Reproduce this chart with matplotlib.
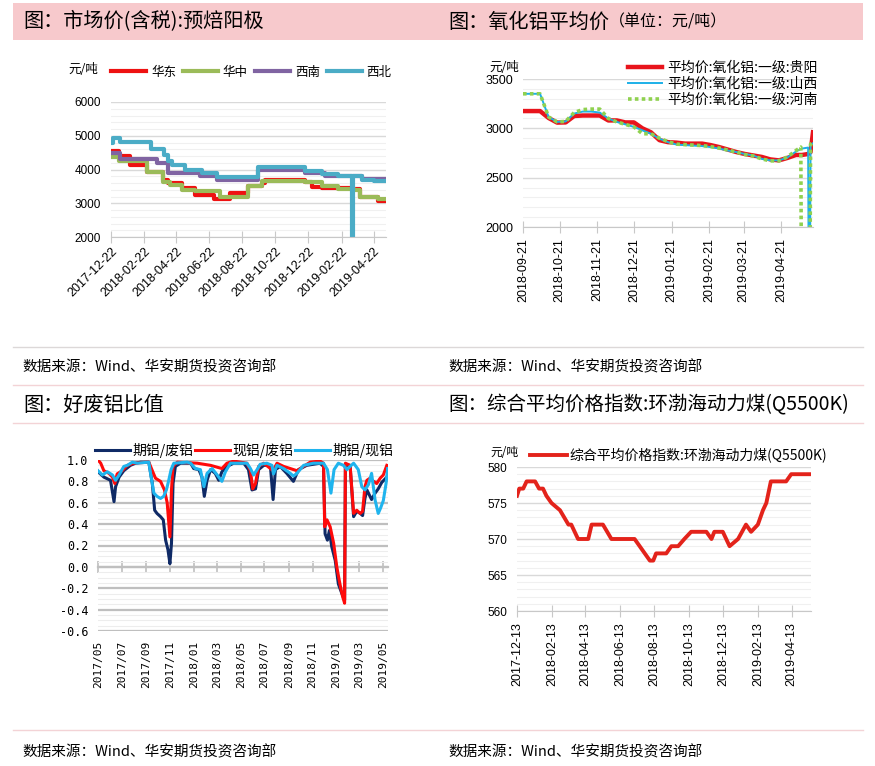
import numpy as np
import pandas as pd
import matplotlib
matplotlib.use("Agg")
import matplotlib.pyplot as plt
import matplotlib.dates as mdates
from matplotlib.patches import Rectangle
from matplotlib.lines import Line2D
from matplotlib.ticker import MultipleLocator, FormatStrFormatter

plt.rcParams['font.family'] = ['Liberation Sans', 'Noto Sans CJK SC', 'DejaVu Sans']
plt.rcParams['axes.unicode_minus'] = False

CJK = ['Noto Sans CJK SC', 'DejaVu Sans']
MONO = ['DejaVu Sans Mono', 'Noto Sans CJK SC']

# ---------------- 图1 预焙阳极市场价 (调价日期, 价格) ----------------
hd_dates = ['2017-12-22', '2018-01-05', '2018-01-26', '2018-02-26', '2018-03-29', '2018-04-07',
            '2018-05-02', '2018-05-27', '2018-06-30', '2018-07-30', '2018-09-02', '2018-09-27',
            '2018-10-03', '2018-12-16', '2018-12-29', '2019-01-16', '2019-03-13', '2019-03-28',
            '2019-05-01', '2019-05-15']
hd_vals = [4550, 4390, 4140, 3940, 3700, 3600, 3450, 3250, 3130, 3300, 3500, 3600,
           3680, 3640, 3480, 3450, 3420, 3200, 3080, 3080]

hz_dates = ['2017-12-22', '2018-01-05', '2018-02-26', '2018-03-29', '2018-04-10', '2018-05-02',
            '2018-05-27', '2018-07-12', '2018-09-02', '2018-09-27', '2018-12-16', '2019-01-16',
            '2019-02-16', '2019-03-16', '2019-03-28', '2019-05-01', '2019-05-15']
hz_vals = [4360, 4240, 3940, 3640, 3545, 3400, 3350, 3200, 3500, 3670, 3620, 3500,
           3420, 3380, 3200, 3130, 3130]

xn_dates = ['2017-12-22', '2018-01-08', '2018-03-17', '2018-04-07', '2018-06-05', '2018-07-06',
            '2018-09-21', '2018-12-16', '2019-01-22', '2019-03-31', '2019-05-15']
xn_vals = [4500, 4310, 4200, 3900, 3800, 3700, 4000, 3900, 3800, 3710, 3710]

xb_dates = ['2017-12-22', '2017-12-25', '2018-01-08', '2018-03-06', '2018-03-31', '2018-04-07',
            '2018-04-13', '2018-05-08', '2018-06-08', '2018-07-06', '2018-09-21', '2018-12-16',
            '2019-01-16', '2019-02-16', '2019-03-13', '2019-03-15', '2019-03-31', '2019-04-22',
            '2019-05-15']
xb_vals = [4800, 4930, 4810, 4620, 4420, 4250, 4120, 4000, 3900, 3780, 4070, 3970,
           3870, 3800, 2000, 3800, 3700, 3650, 3650]

# ---------------- 图2 氧化铝平均价 ----------------
ox_dates = ['2018-09-21', '2018-09-28', '2018-10-05', '2018-10-12', '2018-10-19', '2018-10-26',
            '2018-11-02', '2018-11-09', '2018-11-16', '2018-11-23', '2018-11-30', '2018-12-07',
            '2018-12-14', '2018-12-21', '2018-12-28', '2019-01-04', '2019-01-11', '2019-01-18',
            '2019-01-25', '2019-02-01', '2019-02-08', '2019-02-15', '2019-02-22', '2019-03-01',
            '2019-03-08', '2019-03-15', '2019-03-22', '2019-03-29', '2019-04-05', '2019-04-12',
            '2019-04-19', '2019-04-26', '2019-05-03', '2019-05-07', '2019-05-08', '2019-05-13',
            '2019-05-14', '2019-05-15', '2019-05-17']
gy_vals = [3175, 3175, 3175, 3105, 3058, 3060, 3125, 3130, 3130, 3130, 3080, 3080,
           3060, 3060, 3000, 2960, 2880, 2860, 2855, 2845, 2845, 2845, 2830, 2810,
           2785, 2760, 2740, 2725, 2710, 2685, 2675, 2700, 2730, 2730, 2730, 2740,
           2750, 2760, 2960]
sx_vals = [3350, 3350, 3350, 3115, 3065, 3070, 3150, 3170, 3170, 3160, 3100, 3065,
           3040, 3015, 2980, 2945, 2895, 2860, 2835, 2830, 2825, 2820, 2810, 2795,
           2775, 2760, 2740, 2725, 2690, 2675, 2675, 2705, 2765, 2790, 2795, 2805,
           0, 2830, 2850]
hn_vals = [3350, 3350, 3350, 3115, 3065, 3070, 3160, 3190, 3195, 3195, 3100, 3065,
           3040, 3015, 2945, 2945, 2900, 2865, 2840, 2835, 2830, 2825, 2815, 2800,
           2780, 2760, 2735, 2720, 2690, 2670, 2670, 2710, 2775, 2810, 0, 0,
           0, 2840, 2860]

# ---------------- 图3 好废铝比值 ----------------
qf_dates = ['2017-05-01', '2017-05-16', '2017-06-02', '2017-06-11', '2017-06-15', '2017-06-24',
            '2017-07-06', '2017-07-23', '2017-08-05', '2017-08-18', '2017-09-08', '2017-09-17',
            '2017-09-23', '2017-09-29', '2017-10-08', '2017-10-15', '2017-10-21', '2017-10-27',
            '2017-11-01', '2017-11-05', '2017-11-09', '2017-11-15', '2017-11-28', '2017-12-24',
            '2018-01-01', '2018-01-14', '2018-01-22', '2018-01-28', '2018-02-04', '2018-02-13',
            '2018-02-25', '2018-03-06', '2018-03-14', '2018-03-27', '2018-04-13', '2018-05-09',
            '2018-05-21', '2018-05-30', '2018-06-08', '2018-06-16', '2018-06-29', '2018-07-16',
            '2018-07-23', '2018-07-29', '2018-08-10', '2018-08-27', '2018-09-13', '2018-09-26',
            '2018-10-17', '2018-11-20', '2018-11-29', '2018-12-03', '2018-12-09', '2018-12-14',
            '2018-12-20', '2018-12-29', '2019-01-06', '2019-01-15', '2019-01-22', '2019-01-24',
            '2019-02-05', '2019-02-14', '2019-02-22', '2019-03-03', '2019-03-09', '2019-03-15',
            '2019-03-20', '2019-04-01', '2019-04-10', '2019-04-18', '2019-04-27', '2019-05-10']
qf_vals = [0.89, 0.84, 0.81, 0.61, 0.75, 0.84, 0.90, 0.95, 0.97, 0.98, 0.98, 0.78,
           0.53, 0.50, 0.47, 0.44, 0.25, 0.16, 0.03, 0.22, 0.78, 0.94, 0.97, 0.97,
           0.92, 0.91, 0.84, 0.66, 0.81, 0.91, 0.875, 0.81, 0.89, 0.94, 0.97, 0.97,
           0.91, 0.72, 0.73, 0.91, 0.95, 0.95, 0.63, 0.91, 0.94, 0.875, 0.80, 0.91,
           0.95, 0.97, 0.94, 0.31, 0.25, 0.34, 0.19, 0.06, -0.16, -0.25, -0.31, 0.95,
           0.95, 0.47, 0.52, 0.50, 0.48, 0.64, 0.72, 0.63, 0.69, 0.73, 0.79, 0.84]

xf_dates = ['2017-05-01', '2017-05-08', '2017-05-16', '2017-05-29', '2017-06-07', '2017-06-13',
            '2017-06-19', '2017-07-02', '2017-07-15', '2017-08-01', '2017-09-08', '2017-09-17',
            '2017-09-25', '2017-10-08', '2017-10-18', '2017-10-25', '2017-11-01', '2017-11-05',
            '2017-11-09', '2017-11-20', '2018-01-10', '2018-02-13', '2018-03-14', '2018-03-27',
            '2018-04-13', '2018-05-17', '2018-05-26', '2018-06-01', '2018-06-08', '2018-06-16',
            '2018-06-29', '2018-07-23', '2018-08-02', '2018-08-19', '2018-09-05', '2018-09-22',
            '2018-10-09', '2018-10-26', '2018-11-20', '2018-11-29', '2018-12-02', '2018-12-08',
            '2018-12-16', '2018-12-25', '2019-01-02', '2019-01-10', '2019-01-17', '2019-01-22',
            '2019-01-24', '2019-02-05', '2019-02-14', '2019-02-22', '2019-03-03', '2019-03-09',
            '2019-03-15', '2019-03-20', '2019-03-28', '2019-04-06', '2019-04-14', '2019-04-23',
            '2019-05-01', '2019-05-10']
xf_vals = [1.00, 0.97, 0.90, 0.875, 0.84, 0.78, 0.87, 0.90, 0.95, 0.97, 0.98, 0.90,
           0.83, 0.80, 0.72, 0.60, 0.28, 0.72, 0.94, 0.98, 0.97, 0.95, 0.92, 0.97,
           0.99, 0.97, 0.90, 0.73, 0.78, 0.94, 0.97, 0.90, 0.97, 0.94, 0.92, 0.90,
           0.94, 0.98, 0.99, 0.97, 0.375, 0.44, 0.375, 0.22, 0.00, -0.16, -0.28, -0.34,
           0.97, 0.95, 0.50, 0.53, 0.50, 0.52, 0.75, 0.81, 0.83, 0.80, 0.78, 0.83,
           0.86, 0.95]

qx_dates = ['2017-05-01', '2017-05-12', '2017-05-25', '2017-06-07', '2017-06-15', '2017-06-24',
            '2017-07-06', '2017-07-15', '2017-07-28', '2017-08-09', '2017-09-08', '2017-09-14',
            '2017-09-21', '2017-09-29', '2017-10-08', '2017-10-16', '2017-10-23', '2017-10-29',
            '2017-11-04', '2017-11-11', '2017-12-15', '2017-12-24', '2018-01-05', '2018-01-18',
            '2018-01-27', '2018-02-04', '2018-02-17', '2018-03-02', '2018-03-14', '2018-03-23',
            '2018-04-05', '2018-05-17', '2018-05-26', '2018-06-03', '2018-06-12', '2018-06-20',
            '2018-07-07', '2018-07-20', '2018-07-24', '2018-08-02', '2018-08-19', '2018-09-05',
            '2018-09-13', '2018-09-22', '2018-10-09', '2018-11-03', '2018-11-29', '2018-12-09',
            '2018-12-18', '2018-12-26', '2019-01-06', '2019-01-19', '2019-01-28', '2019-02-05',
            '2019-02-14', '2019-02-26', '2019-03-07', '2019-03-15', '2019-03-24', '2019-04-01',
            '2019-04-10', '2019-04-18', '2019-04-24', '2019-05-01', '2019-05-08', '2019-05-12']
qx_vals = [0.90, 0.86, 0.89, 0.86, 0.81, 0.86, 0.94, 0.95, 0.98, 0.97, 0.98, 0.84,
           0.69, 0.66, 0.64, 0.66, 0.72, 0.81, 0.91, 0.97, 0.98, 0.97, 0.92, 0.91,
           0.75, 0.875, 0.92, 0.86, 0.80, 0.89, 0.97, 0.97, 0.92, 0.86, 0.91, 0.96,
           0.97, 0.95, 0.87, 0.95, 0.92, 0.875, 0.85, 0.875, 0.95, 0.97, 0.97, 0.91,
           0.69, 0.91, 0.97, 0.95, 0.91, 0.94, 0.97, 0.91, 0.75, 0.72, 0.77, 0.875,
           0.625, 0.50, 0.55, 0.62, 0.78, 0.92]

# ---------------- 图4 环渤海动力煤 ----------------
coal_dates = ['2017-12-13', '2017-12-17', '2017-12-24', '2017-12-30', '2018-01-14', '2018-01-21',
              '2018-01-28', '2018-02-03', '2018-02-12', '2018-02-27', '2018-03-14', '2018-03-19',
              '2018-03-31', '2018-04-18', '2018-04-24', '2018-05-14', '2018-05-29', '2018-07-09',
              '2018-08-05', '2018-08-11', '2018-08-16', '2018-09-03', '2018-09-12', '2018-09-24',
              '2018-10-05', '2018-10-17', '2018-11-13', '2018-11-22', '2018-11-27', '2018-12-12',
              '2018-12-24', '2019-01-08', '2019-01-22', '2019-01-31', '2019-02-12', '2019-02-21',
              '2019-02-27', '2019-03-07', '2019-04-03', '2019-04-12', '2019-05-17']
coal_vals = [576, 577, 577, 578, 578, 577, 577, 576, 575, 574, 572, 572,
             570, 570, 572, 572, 570, 570, 567, 567, 568, 568, 569, 569,
             570, 571, 571, 570, 571, 571, 569, 570, 572, 571, 572, 574,
             575, 578, 578, 579, 579]

SOURCE = '数据来源：Wind、华安期货投资咨询部'

W, H = 875, 766
def fx(px):
    return px / W
def fy(py):
    return 1 - py / H

fig = plt.figure(figsize=(W / 100, H / 100), dpi=100)
fig.patch.set_facecolor('white')

# 标题栏 / 分隔线
fig.add_artist(Rectangle((fx(13), fy(40)), fx(863) - fx(13), fy(3) - fy(40),
                         transform=fig.transFigure, facecolor='#f7c9cc', edgecolor='none', zorder=0))
for yy, cc in [(347, '#dcd8d8'), (385, '#f3d3d6'), (423, '#f3d3d6'), (730, '#f3d3d6')]:
    fig.add_artist(Line2D([fx(13), fx(863)], [fy(yy), fy(yy)], transform=fig.transFigure,
                          color=cc, lw=1))

fig.text(fx(23), fy(22), '图：市场价(含税):预焙阳极', fontsize=14.5, family=CJK, va='center')
t2 = fig.text(fx(448), fy(22), '图：氧化铝平均价', fontsize=14.5, family=CJK, va='center')
fig.text(fx(23), fy(405), '图：好废铝比值', fontsize=14.5, family=CJK, va='center')
fig.text(fx(448), fy(405), '图：综合平均价格指数:环渤海动力煤(Q5500K)', fontsize=14, family=CJK, va='center')
for xx, yy in [(22, 367), (448, 367), (22, 752), (448, 752)]:
    fig.text(fx(xx), fy(yy), SOURCE, fontsize=10.5, family=CJK, va='center')


def style(ax, major, minor, gmaj='#d9d9d9', gmin='#f0f0f0', lwmaj=1.0):
    ax.set_axisbelow(True)
    ax.yaxis.set_major_locator(MultipleLocator(major))
    ax.yaxis.set_minor_locator(MultipleLocator(minor))
    ax.grid(axis='y', which='major', color=gmaj, lw=lwmaj)
    ax.grid(axis='y', which='minor', color=gmin, lw=0.8)
    for s in ['left', 'right', 'top']:
        ax.spines[s].set_visible(False)
    ax.spines['bottom'].set_color('#c8c8c8')
    ax.tick_params(axis='y', which='both', length=0, pad=7)
    ax.tick_params(axis='x', direction='inout', length=8, color='#c8c8c8')


# ---------------- 图1 ----------------
ax1 = fig.add_axes([fx(111), fy(237), fx(386) - fx(111), fy(102) - fy(237)])
for nm, d, v, c in [('华东', hd_dates, hd_vals, '#ee1111'),
                    ('华中', hz_dates, hz_vals, '#9bbb59'),
                    ('西南', xn_dates, xn_vals, '#8064a2'),
                    ('西北', xb_dates, xb_vals, '#4bacc6')]:
    ax1.plot(pd.to_datetime(d), v, drawstyle='steps-post', color=c, lw=3, label=nm)
style(ax1, 1000, 200)
ax1.set_ylim(2000, 6000)
ax1.set_xlim(pd.Timestamp('2017-12-22'), pd.Timestamp('2019-05-15'))
ax1.xaxis.set_major_locator(mdates.MonthLocator(bymonth=[2, 4, 6, 8, 10, 12], bymonthday=22))
ax1.xaxis.set_major_formatter(mdates.DateFormatter('%Y-%m-%d'))
ax1.tick_params(axis='y', labelsize=8.5)
ax1.tick_params(axis='x', labelsize=9, pad=2)
for lab in ax1.get_xticklabels():
    lab.set_rotation(45)
    lab.set_ha('right')
    lab.set_va('top')
    lab.set_rotation_mode('anchor')
ax1.text(-0.102, 1.244, '元/吨', transform=ax1.transAxes, ha='center', va='center',
         fontsize=9, family=CJK)
ax1.legend(loc='center left', bbox_to_anchor=(0.0, 1.22), ncol=4, frameon=False,
           handlelength=2.8, handletextpad=0.4, columnspacing=0.55, borderaxespad=0,
           borderpad=0, prop={'family': CJK, 'size': 9})

# ---------------- 图2 ----------------
ax2 = fig.add_axes([fx(523), fy(227), fx(813) - fx(523), fy(79) - fy(227)])
od = pd.to_datetime(ox_dates)
ax2.plot(od, gy_vals, color='#e8141c', lw=3.2, label='平均价:氧化铝:一级:贵阳')
ax2.plot(od, sx_vals, color='#1cb0e8', lw=1.4, label='平均价:氧化铝:一级:山西')
ax2.plot(od, hn_vals, color='#8fd14f', lw=2.6, ls=(0, (1, 0.9)), label='平均价:氧化铝:一级:河南')
style(ax2, 500, 100)
ax2.set_ylim(2000, 3500)
ax2.set_xlim(pd.Timestamp('2018-09-21'), pd.Timestamp('2019-05-17'))
ax2.xaxis.set_major_locator(mdates.MonthLocator(bymonthday=21))
ax2.xaxis.set_major_formatter(mdates.DateFormatter('%Y-%m-%d'))
ax2.tick_params(axis='y', labelsize=9)
ax2.tick_params(axis='x', labelsize=9, labelrotation=90, pad=4)
ax2.text(-0.066, 1.081, '元/吨', transform=ax2.transAxes, ha='center', va='center',
         fontsize=9, family=CJK)
ax2.legend(loc='center left', bbox_to_anchor=(0.362, 0.966), ncol=1, frameon=False,
           handlelength=2.45, handletextpad=0.35, labelspacing=0.15, borderaxespad=0,
           borderpad=0, prop={'family': CJK, 'size': 10})
ax2.annotate('（单位：元/吨）', xy=(1, 0.5), xycoords=t2, va='center', ha='left',
             fontsize=11.5, family=CJK)

# ---------------- 图3 ----------------
ax3 = fig.add_axes([fx(98), fy(631), fx(388) - fx(98), fy(460) - fy(631)])
ax3.plot(pd.to_datetime(qf_dates), qf_vals, color='#0f2a66', lw=2.2, label='期铝/废铝')
ax3.plot(pd.to_datetime(xf_dates), xf_vals, color='#ff0a0a', lw=2.2, label='现铝/废铝')
ax3.plot(pd.to_datetime(qx_dates), qx_vals, color='#1fb4ee', lw=2.2, label='期铝/现铝')
style(ax3, 0.2, 0.05, gmaj='#bfbfbf', gmin='#ededed', lwmaj=1.6)
y3min, y3max = -0.6, 1.0
ax3.set_ylim(y3min, y3max)
ax3.set_xlim(pd.Timestamp('2017-05-01'), pd.Timestamp('2019-05-13'))
loc3 = mdates.MonthLocator(bymonth=[1, 3, 5, 7, 9, 11])
ax3.xaxis.set_major_locator(loc3)
ax3.xaxis.set_major_formatter(mdates.DateFormatter('%Y/%m'))
ax3.yaxis.set_major_formatter(FormatStrFormatter('%.1f'))
ax3.spines['bottom'].set_visible(False)
ax3.tick_params(axis='x', length=0, labelsize=8, labelrotation=90, pad=7,
                labelfontfamily='DejaVu Sans Mono')
ax3.tick_params(axis='y', labelsize=8.5, labelfontfamily='DejaVu Sans Mono')
sec = ax3.secondary_xaxis((0 - y3min) / (y3max - y3min))
sec.xaxis.set_major_locator(mdates.MonthLocator(bymonth=[1, 3, 5, 7, 9, 11]))
sec.tick_params(axis='x', direction='inout', length=8, color='#bfbfbf', width=1.2,
                labelbottom=False)
sec.spines['bottom'].set_color('#bfbfbf')
sec.spines['bottom'].set_linewidth(1.6)
ax3.legend(loc='center left', bbox_to_anchor=(-0.01, 1.058), ncol=3, frameon=False,
           handlelength=2.5, handletextpad=0.2, columnspacing=0.1, borderaxespad=0,
           borderpad=0, prop={'family': CJK, 'size': 10})

# ---------------- 图4 ----------------
ax4 = fig.add_axes([fx(517), fy(611), fx(811) - fx(517), fy(467) - fy(611)])
ax4.plot(pd.to_datetime(coal_dates), coal_vals, color='#e3231b', lw=2.8,
         label='综合平均价格指数:环渤海动力煤(Q5500K)')
style(ax4, 5, 1)
ax4.set_ylim(560, 580)
ax4.set_xlim(pd.Timestamp('2017-12-13'), pd.Timestamp('2019-05-17'))
ax4.xaxis.set_major_locator(mdates.MonthLocator(bymonth=[2, 4, 6, 8, 10, 12], bymonthday=13))
ax4.xaxis.set_major_formatter(mdates.DateFormatter('%Y-%m-%d'))
ax4.tick_params(axis='y', labelsize=8.5)
ax4.tick_params(axis='x', labelsize=9, labelrotation=90, pad=4)
ax4.text(-0.044, 1.104, '元/吨', transform=ax4.transAxes, ha='center', va='center',
         fontsize=8.5, family=CJK)
ax4.legend(loc='center left', bbox_to_anchor=(0.044, 1.083), ncol=1, frameon=False,
           handlelength=2.66, handletextpad=0.2, borderaxespad=0, borderpad=0,
           prop={'family': CJK, 'size': 10})

fig.savefig('out.png', dpi=100)
